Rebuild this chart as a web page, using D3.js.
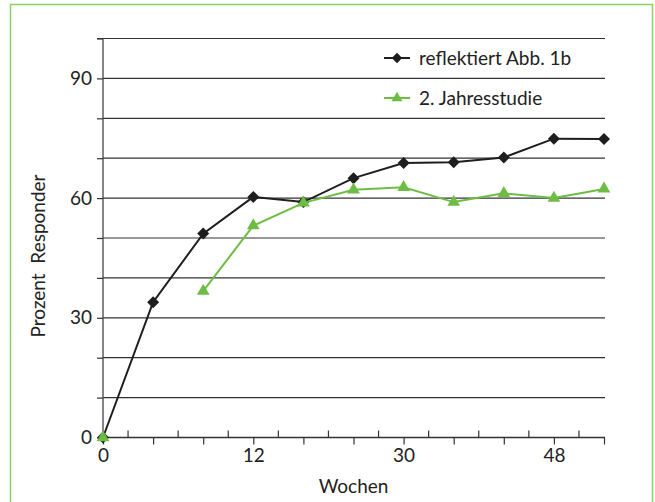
<!DOCTYPE html>
<html>
<head>
<meta charset="utf-8">
<script src="https://cdn.jsdelivr.net/npm/d3@7"></script>
<style>
  body { margin: 0; background: #fff; }
  text { font-family: Lato, "Open Sans", sans-serif; fill: #222; }
</style>
</head>
<body>
<svg id="chart"></svg>
<script>
// Wochen (categories), only some get a label
const weeks = [0, 4, 8, 12, 18, 24, 30, 36, 42, 48, 52];
const weekLabels = [0, 12, 30, 48];
const yTickLabels = [0, 30, 60, 90];

// series values (null = no point)
const reflektiert = [0, 33.9, 51.1, 60.3, 59.0, 65.0, 68.8, 69.0, 70.2, 74.9, 74.8];
const jahresstudie = [0, null, 36.7, 53.1, 58.8, 62.1, 62.7, 59.0, 61.2, 60.0, 62.3];

const seriesNames = ['reflektiert Abb. 1b', '2. Jahresstudie'];
const seriesColors = ['#1e1e1e', '#6dbd45'];

const fontFamily = 'Lato, "Open Sans", sans-serif';

// Set up the svg
const width = 655, height = 502;
const margin = {top: 38.5, right: 51, bottom: 64.5, left: 103};

const svg = d3.select('#chart')
    .attr('width', width)
    .attr('height', height);

// Frame around the figure
svg.append('path')
    .attr('d', `M10.5,${height} V4.5 H652.5 V${height}`)
    .attr('fill', 'none')
    .attr('stroke', '#8ccf63')
    .attr('stroke-width', 1.5);

const chart = svg.append('g')
    .attr('transform', `translate(${margin.left},${margin.top})`);

const innerW = width - margin.left - margin.right;
const innerH = height - margin.top - margin.bottom;

// Scales
const xScale = d3.scalePoint()
    .domain(weeks)
    .range([0, innerW]);
const yScale = d3.scaleLinear()
    .domain([0, 100])
    .range([innerH, 0]);

// Horizontal gridlines every 10
chart.append('g')
    .selectAll('line')
    .data(d3.range(10, 101, 10))
    .join('line')
    .attr('x1', d => d === 100 ? -6 : 0)
    .attr('x2', innerW + 1)
    .attr('y1', d => yScale(d))
    .attr('y2', d => yScale(d))
    .attr('stroke', '#333')
    .attr('stroke-width', 1.2);

// Y axis
const yAxis = d3.axisLeft(yScale)
    .tickValues(d3.range(0, 101, 10))
    .tickSize(6)
    .tickPadding(5)
    .tickFormat(d => yTickLabels.includes(d) ? d : '');
const yAxisG = chart.append('g').call(yAxis);
yAxisG.select('.domain').attr('d', `M0,${innerH}V0`).attr('stroke', '#444').attr('stroke-width', 1.3);
yAxisG.selectAll('.tick line').attr('stroke', '#333').attr('stroke-width', 1.2);
yAxisG.selectAll('.tick text')
    .style('font-family', fontFamily)
    .style('font-size', '19px')
    .attr('fill', '#222');

// X axis: long ticks below at each week, short ticks above in between
const xAxis = d3.axisBottom(xScale)
    .tickSize(7)
    .tickPadding(4)
    .tickFormat(d => weekLabels.includes(d) ? d : '');
const xAxisG = chart.append('g')
    .attr('transform', `translate(0,${innerH})`)
    .call(xAxis);
xAxisG.select('.domain').attr('d', `M0,0H${innerW + 1}`).attr('stroke', '#333').attr('stroke-width', 1.3);
xAxisG.selectAll('.tick line').attr('stroke', '#333').attr('stroke-width', 1.2);
xAxisG.selectAll('.tick text')
    .style('font-family', fontFamily)
    .style('font-size', '19px')
    .attr('fill', '#222');

const step = xScale.step();
xAxisG.append('g')
    .selectAll('line')
    .data(weeks.slice(0, -1))
    .join('line')
    .attr('x1', d => xScale(d) + step / 2)
    .attr('x2', d => xScale(d) + step / 2)
    .attr('y1', 0)
    .attr('y2', -7)
    .attr('stroke', '#333')
    .attr('stroke-width', 1.2);

// Axis titles
svg.append('text')
    .attr('x', margin.left + xScale(30) - 50)
    .attr('y', 493)
    .attr('text-anchor', 'middle')
    .style('font-size', '19px')
    .text('Wochen');

svg.append('text')
    .attr('transform', `translate(45,${margin.top + innerH * 0.545}) rotate(-90)`)
    .attr('text-anchor', 'middle')
    .style('font-size', '19px')
    .attr('xml:space', 'preserve')
    .text('Prozent  Responder');

// Lines and markers
const line = d3.line()
    .defined(d => d.v !== null)
    .x(d => xScale(d.w))
    .y(d => yScale(d.v));

const allSeries = [reflektiert, jahresstudie].map((vals, i) => ({
    name: seriesNames[i],
    color: seriesColors[i],
    symbol: i === 0 ? d3.symbolSquare : d3.symbolTriangle,
    rotate: i === 0 ? 45 : 0,
    size: i === 0 ? 72 : 70,
    points: weeks.map((w, j) => ({w: w, v: vals[j]}))
}));

// black series first, green drawn on top of it
allSeries.forEach(s => {
    chart.append('path')
        .datum(s.points)
        .attr('fill', 'none')
        .attr('stroke', s.color)
        .attr('stroke-width', 2)
        .attr('d', line);
    chart.append('g')
        .selectAll('path')
        .data(s.points.filter(d => d.v !== null))
        .join('path')
        .attr('transform', d => `translate(${xScale(d.w)},${yScale(d.v)}) rotate(${s.rotate})`)
        .attr('d', d3.symbol().type(s.symbol).size(s.size))
        .attr('fill', s.color);
});

// Legend
const legend = svg.append('g')
    .attr('transform', 'translate(384,58)');
allSeries.forEach((s, i) => {
    const g = legend.append('g').attr('transform', `translate(0,${i * 40})`);
    g.append('line')
        .attr('x1', 0).attr('x2', 26)
        .attr('stroke', s.color)
        .attr('stroke-width', 2);
    g.append('path')
        .attr('transform', `translate(13,0) rotate(${s.rotate})`)
        .attr('d', d3.symbol().type(s.symbol).size(s.size * 0.75))
        .attr('fill', s.color);
    g.append('text')
        .attr('x', 35)
        .attr('dy', '0.35em')
        .style('font-size', '19px')
        .text(s.name);
});
</script>
</body>
</html>
